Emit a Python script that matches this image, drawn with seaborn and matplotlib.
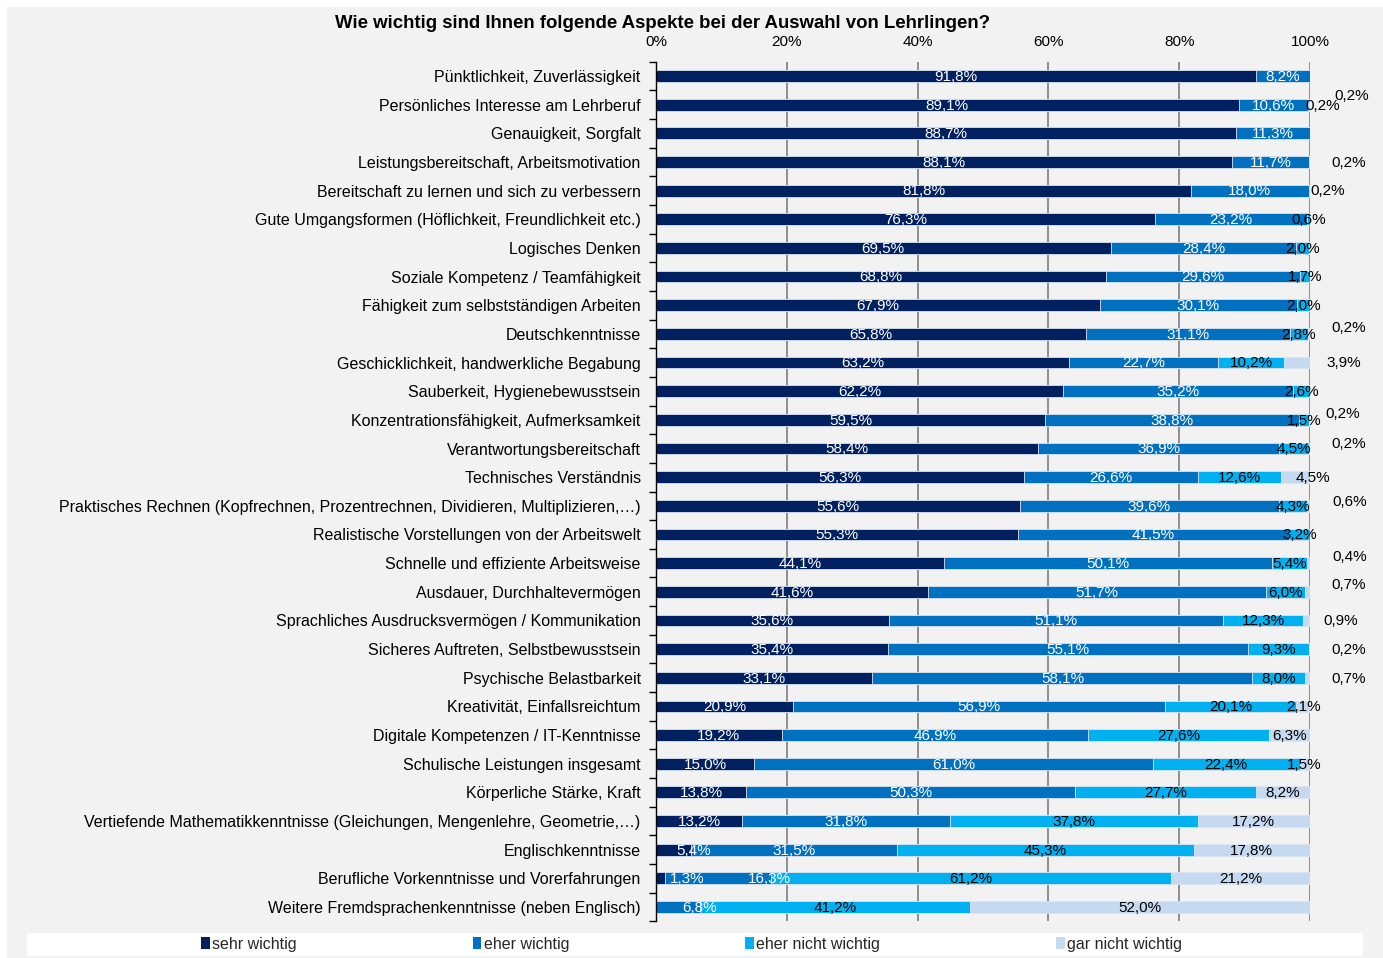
import numpy as np
import pandas as pd
import matplotlib
matplotlib.use("Agg")
import matplotlib.pyplot as plt
from matplotlib.patches import Patch, Rectangle
import seaborn as sns

# --- Daten ---
aspekte = [
    "Pünktlichkeit, Zuverlässigkeit",
    "Persönliches Interesse am Lehrberuf",
    "Genauigkeit, Sorgfalt",
    "Leistungsbereitschaft, Arbeitsmotivation",
    "Bereitschaft zu lernen und sich zu verbessern",
    "Gute Umgangsformen (Höflichkeit, Freundlichkeit etc.)",
    "Logisches Denken",
    "Soziale Kompetenz / Teamfähigkeit",
    "Fähigkeit zum selbstständigen Arbeiten",
    "Deutschkenntnisse",
    "Geschicklichkeit, handwerkliche Begabung",
    "Sauberkeit, Hygienebewusstsein",
    "Konzentrationsfähigkeit, Aufmerksamkeit",
    "Verantwortungsbereitschaft",
    "Technisches Verständnis",
    "Praktisches Rechnen (Kopfrechnen, Prozentrechnen, Dividieren, Multiplizieren,…)",
    "Realistische Vorstellungen von der Arbeitswelt",
    "Schnelle und effiziente Arbeitsweise",
    "Ausdauer, Durchhaltevermögen",
    "Sprachliches Ausdrucksvermögen / Kommunikation",
    "Sicheres Auftreten, Selbstbewusstsein",
    "Psychische Belastbarkeit",
    "Kreativität, Einfallsreichtum",
    "Digitale Kompetenzen / IT-Kenntnisse",
    "Schulische Leistungen insgesamt",
    "Körperliche Stärke, Kraft",
    "Vertiefende Mathematikkenntnisse (Gleichungen, Mengenlehre, Geometrie,…)",
    "Englischkenntnisse",
    "Berufliche Vorkenntnisse und Vorerfahrungen",
    "Weitere Fremdsprachenkenntnisse (neben Englisch)",
]

sehr_wichtig = [91.8, 89.1, 88.7, 88.1, 81.8, 76.3, 69.5, 68.8, 67.9, 65.8,
                63.2, 62.2, 59.5, 58.4, 56.3, 55.6, 55.3, 44.1, 41.6, 35.6,
                35.4, 33.1, 20.9, 19.2, 15.0, 13.8, 13.2, 5.4, 1.3, 0.0]
eher_wichtig = [8.2, 10.6, 11.3, 11.7, 18.0, 23.2, 28.4, 29.6, 30.1, 31.1,
                22.7, 35.2, 38.8, 36.9, 26.6, 39.6, 41.5, 50.1, 51.7, 51.1,
                55.1, 58.1, 56.9, 46.9, 61.0, 50.3, 31.8, 31.5, 16.3, 6.8]
eher_nicht_wichtig = [0.0, 0.2, 0.0, 0.0, 0.2, 0.6, 2.0, 1.7, 2.0, 2.8,
                      10.2, 2.6, 1.5, 4.5, 12.6, 4.3, 3.2, 5.4, 6.0, 12.3,
                      9.3, 8.0, 20.1, 27.6, 22.4, 27.7, 37.8, 45.3, 61.2, 41.2]
gar_nicht_wichtig = [0.0, 0.2, 0.0, 0.2, 0.0, 0.0, 0.0, 0.0, 0.0, 0.2,
                     3.9, 0.0, 0.2, 0.2, 4.5, 0.6, 0.0, 0.4, 0.7, 0.9,
                     0.2, 0.7, 2.1, 6.3, 1.5, 8.2, 17.2, 17.8, 21.2, 52.0]

kategorien = ["sehr wichtig", "eher wichtig", "eher nicht wichtig", "gar nicht wichtig"]
farben = ["#002060", "#0070C0", "#00B0F0", "#C5D9F1"]
textfarben = ["white", "white", "black", "black"]

# manuell verschobene Beschriftungen: (zeile, serie) -> (x in %, y-versatz in zeilen)
verschoben = {
    (1, 2): (101.9, 0.0), (1, 3): (106.3, -0.34), (3, 3): (105.9, 0.0),
    (4, 2): (102.7, 0.0), (9, 3): (105.9, -0.22), (10, 3): (105.1, 0.0),
    (12, 3): (105.0, -0.25), (13, 3): (105.9, -0.2), (14, 3): (100.4, 0.0),
    (15, 3): (106.0, -0.18), (17, 3): (106.0, -0.25), (18, 3): (105.9, -0.28),
    (19, 3): (104.7, 0.0), (20, 3): (105.9, 0.0), (21, 3): (105.9, 0.0),
    (27, 0): (5.8, 0.0), (28, 0): (4.7, 0.0), (28, 1): (17.3, 0.0),
    (29, 1): (6.6, 0.0),
}

df = pd.DataFrame({
    "aspekt": aspekte,
    kategorien[0]: sehr_wichtig,
    kategorien[1]: eher_wichtig,
    kategorien[2]: eher_nicht_wichtig,
    kategorien[3]: gar_nicht_wichtig,
})
werte = df[kategorien].to_numpy()
kumuliert = werte.cumsum(axis=1)
for k, kat in enumerate(kategorien):
    df["kum_" + kat] = kumuliert[:, k]

sns.set_theme(style="white")
plt.rcParams["font.family"] = ["Liberation Sans", "DejaVu Sans"]

W, H = 1383, 958
fig = plt.figure(figsize=(W / 100, H / 100), dpi=100, facecolor="white")
fig.patches.append(Rectangle((7 / W, 0), 1 - 7 / W, 1 - 7 / H, transform=fig.transFigure,
                             facecolor="#F2F2F2", edgecolor="none", zorder=-10))
fig.patches.append(Rectangle((27 / W, 2 / H), (1363 - 27) / W, 23 / H, transform=fig.transFigure,
                             facecolor="white", edgecolor="none", zorder=-9))

ax = fig.add_axes([656 / W, 1 - 921.3 / H, (1310 - 656) / W, (921.3 - 61.7) / H])
ax.set_facecolor("none")

# gestapelt: von hinten (Summe) nach vorne zeichnen
for k in reversed(range(4)):
    sns.barplot(data=df, x="kum_" + kategorien[k], y="aspekt", order=aspekte,
                color=farben[k], saturation=1, orient="h", width=0.41,
                errorbar=None, edgecolor="#DCE6F2", linewidth=0.6, ax=ax)

# Beschriftungen
for i in range(len(aspekte)):
    for k in range(4):
        v = werte[i, k]
        if v <= 0:
            continue
        x = kumuliert[i, k] - v / 2
        dy = 0.0
        if (i, k) in verschoben:
            x, dy = verschoben[(i, k)]
        ax.text(x, i + dy + 0.03, f"{v:.1f}".replace(".", ",") + "%", ha="center", va="center",
                fontsize=11, color=textfarben[k], clip_on=False, zorder=5)

ax.set_xlim(0, 100)
ax.set_ylim(len(aspekte) - 0.5, -0.5)
ax.set_xlabel("")
ax.set_ylabel("")
ax.xaxis.tick_top()
ax.set_xticks([0, 20, 40, 60, 80, 100])
ax.set_xticklabels(["0%", "20%", "40%", "60%", "80%", "100%"])
ax.tick_params(axis="x", length=0, pad=9, labelsize=11, colors="black")
ax.tick_params(axis="y", which="major", length=0, pad=11, labelsize=11.5, colors="black")
ax.set_yticks(np.arange(-0.5, len(aspekte), 1.0), minor=True)
ax.tick_params(axis="y", which="minor", length=5, width=1, direction="out", color="black", left=True)
ax.xaxis.grid(True, color="#868686", linewidth=1.3)
ax.yaxis.grid(False)
ax.set_axisbelow(True)
for s in ["top", "right", "bottom"]:
    ax.spines[s].set_visible(False)
ax.spines["left"].set_color("black")
ax.spines["left"].set_linewidth(1)

fig.text(663 / W, 1 - 24 / H, "Wie wichtig sind Ihnen folgende Aspekte bei der Auswahl von Lehrlingen?",
         ha="center", va="center", fontsize=13.4, fontweight="bold", color="black")

handles = [Patch(facecolor=c, edgecolor="none") for c in farben]
fig.legend(handles, kategorien, loc="center", bbox_to_anchor=(0.500, 1 - 944 / H), ncol=4,
           frameon=False, fontsize=11.5, handlelength=0.55, handleheight=0.8,
           handletextpad=0.15, columnspacing=11.0)

fig.savefig("out.png", dpi=100, facecolor=fig.get_facecolor())
